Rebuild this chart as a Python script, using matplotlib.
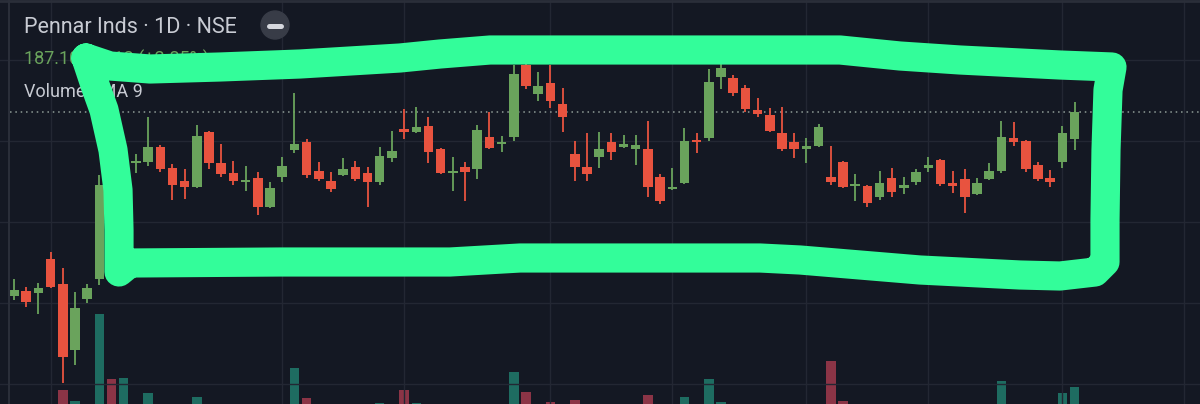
import numpy as np
import matplotlib.pyplot as plt
from matplotlib.patches import Circle

# daily OHLC, Pennar Inds (NSE)
opens = [141.7, 143.0, 142.5, 150.9, 144.7, 128.4, 141.0, 145.9, 169.4, 171.3,
         174.6, 174.8, 178.5, 173.3, 170.1, 168.6, 182.2, 174.6, 172.1, 169.9,
         170.9, 163.7, 171.1, 177.8, 179.8, 172.6, 170.1, 171.6, 173.6, 172.1,
         169.9, 175.8, 183.0, 182.2, 183.7, 178.0, 172.1, 173.6, 173.1, 181.0,
         179.3, 181.0, 198.8, 191.6, 194.3, 189.1, 176.8, 173.6, 176.0, 179.8,
         178.5, 178.0, 178.0, 171.1, 168.1, 169.6, 180.2, 180.7, 195.8, 195.6,
         193.1, 187.7, 186.4, 182.0, 179.8, 178.0, 178.8, 171.1, 174.8, 168.9,
         168.9, 166.2, 170.9, 168.4, 169.9, 173.3, 175.3, 169.6, 170.6, 166.9,
         170.6, 172.6, 180.7, 180.0, 174.1, 170.9, 174.8, 180.5]
highs = [145.9, 143.9, 144.9, 152.6, 148.6, 142.7, 144.7, 171.6, 170.9, 176.5,
         176.8, 185.9, 179.0, 174.3, 173.1, 183.9, 182.5, 179.3, 175.1, 173.8,
         172.3, 169.9, 176.0, 191.9, 180.5, 174.8, 172.3, 175.8, 175.1, 173.6,
         178.5, 182.5, 187.9, 188.4, 185.9, 178.2, 176.0, 174.8, 183.9, 187.2,
         181.2, 198.8, 199.3, 197.0, 198.8, 193.1, 180.0, 182.0, 182.2, 182.0,
         181.5, 181.5, 184.9, 171.8, 173.3, 183.2, 182.0, 197.8, 199.3, 196.3,
         193.8, 190.6, 188.1, 188.4, 182.0, 180.7, 184.2, 178.8, 175.0, 171.8,
         169.1, 172.6, 173.3, 171.1, 173.1, 176.0, 175.5, 172.6, 173.1, 170.9,
         174.6, 184.9, 184.7, 180.2, 174.8, 172.8, 183.7, 189.6]
lows = [140.7, 139.0, 137.3, 143.7, 120.2, 124.7, 140.0, 144.4, 165.2, 170.9,
        172.1, 173.8, 172.3, 165.4, 165.7, 168.4, 173.1, 171.1, 169.1, 167.6,
        161.7, 163.5, 169.9, 177.0, 170.9, 170.1, 167.4, 171.4, 170.1, 163.7,
        169.1, 174.8, 180.5, 182.0, 174.6, 171.9, 167.6, 165.2, 170.6, 178.0,
        177.3, 180.0, 192.8, 189.9, 188.1, 182.2, 170.1, 170.1, 173.3, 175.3,
        178.3, 174.1, 166.2, 164.4, 167.9, 169.4, 177.0, 180.0, 192.8, 191.1,
        187.2, 185.9, 182.2, 177.5, 175.8, 174.6, 178.5, 169.1, 168.4, 165.2,
        163.7, 165.4, 166.2, 166.9, 169.1, 172.3, 168.9, 167.2, 162.2, 166.7,
        170.4, 172.1, 178.8, 172.3, 170.1, 168.6, 173.3, 177.8]
closes = [143.2, 140.2, 143.7, 143.9, 126.7, 138.8, 143.7, 169.1, 166.4, 175.3,
          175.1, 178.5, 173.1, 169.1, 168.6, 181.2, 174.6, 171.8, 170.1, 170.4,
          163.7, 168.4, 173.8, 179.3, 171.6, 170.6, 168.1, 173.1, 170.6, 169.9,
          176.3, 177.5, 182.2, 183.5, 177.3, 172.1, 172.6, 172.3, 182.7, 178.3,
          179.8, 196.5, 193.6, 193.6, 189.9, 185.9, 173.6, 171.8, 178.0, 177.3,
          179.3, 179.0, 168.6, 165.2, 168.6, 180.0, 179.8, 194.6, 198.0, 191.9,
          187.9, 186.7, 182.5, 178.0, 178.0, 178.8, 183.5, 169.9, 168.6, 169.4,
          164.7, 169.6, 167.4, 169.1, 172.3, 174.1, 169.4, 168.9, 166.2, 169.6,
          172.6, 181.0, 179.8, 173.1, 170.6, 169.9, 182.0, 187.1]
# volume in thousands of shares
volumes = [40, 30, 45, 50, 200, 90, 45, 960, 310, 320,
           55, 170, 50, 40, 35, 130, 50, 30, 25, 20,
           40, 35, 30, 420, 120, 30, 25, 20, 20, 25,
           70, 40, 200, 70, 50, 45, 25, 30, 55, 50,
           20, 380, 180, 50, 80, 55, 100, 50, 40, 30,
           20, 25, 150, 55, 30, 130, 40, 310, 80, 50,
           45, 30, 35, 50, 25, 20, 40, 490, 90, 30,
           40, 35, 30, 20, 25, 20, 45, 25, 40, 30,
           35, 290, 55, 50, 40, 30, 170, 230]
last_price = 187.1
grid_prices = [120, 140, 160, 180, 200]
grid_bars = [3, 22, 32, 44, 54, 65, 75, 86, 96]

title = "Pennar Inds \u00b7 1D \u00b7 NSE"
price_text = "187.10  +5.18 (+2.85%)"
vol_text = "Volume SMA 9"

# hand-drawn highlighter loop, in screen pixels
stroke_x = [86, 110, 150, 220, 300, 400, 440, 490, 700, 840, 900, 960, 1060, 1112,
            1108, 1106, 1105, 1105, 1095, 1060, 1020, 920, 860, 800, 760, 520, 450,
            280, 130, 119, 119, 118, 113, 104, 95, 86]
stroke_y = [58, 66, 69, 67, 64, 58, 54, 50, 50, 50, 56, 60, 65, 67,
            90, 150, 220, 262, 272, 276, 275, 270, 265, 260, 258, 258, 262,
            262, 263, 272, 230, 190, 150, 110, 85, 58]

bg = '#141823'
gridc = '#232733'
up_c, dn_c = '#6aa35c', '#e8533f'
vup_c, vdn_c = '#1e6c61', '#8b3446'

o = np.array(opens); h = np.array(highs); l = np.array(lows); c = np.array(closes)
x = np.arange(len(o))
up = c >= o

fig = plt.figure(figsize=(12, 4.04), dpi=100, facecolor=bg)

# volume pane (bottom, own scale)
axv = fig.add_axes([0, 0, 1, 1])
axv.set_facecolor(bg)
axv.bar(x, volumes, width=0.78, color=np.where(up, vup_c, vdn_c))
axv.set_ylim(60, 4100)
axv.set_xlim(-1.148, 97.29)
axv.set_xticks([]); axv.set_yticks([])
for s in axv.spines.values():
    s.set_visible(False)

# price pane
ax = fig.add_axes([0, 0, 1, 1])
ax.patch.set_alpha(0)
ax.set_xlim(-1.148, 97.29)
ax.set_ylim(115.06, 214.81)
ax.set_yticks(grid_prices)
ax.set_xticks(grid_bars)
ax.grid(True, color=gridc, lw=1)
ax.set_axisbelow(True)
ax.tick_params(length=0, labelleft=False, labelbottom=False)
for s in ax.spines.values():
    s.set_visible(False)

cols = np.where(up, up_c, dn_c)
ax.vlines(x, l, h, colors=cols, lw=1.3, zorder=2)
body_lo = np.minimum(o, c)
body_h = np.maximum(np.abs(c - o), 0.3)
ax.bar(x, body_h, bottom=body_lo, width=0.78, color=cols, zorder=3)
ax.axhline(last_price, xmin=10 / 1200, color='#8f9c97', lw=1.1, ls=(0, (1, 2.5)), zorder=1)

# overlay in pixel coordinates: header, frame, highlighter
axd = fig.add_axes([0, 0, 1, 1])
axd.set_xlim(0, 1200)
axd.set_ylim(404, 0)
axd.axis('off')
axd.axvline(9, color='#2a2e39', lw=1.5)
axd.axhline(1, color='#2a2e39', lw=2)

axd.text(24, 33, title, color='#c8cbd3', fontsize=15.5, family='Roboto', va='baseline', zorder=4)
axd.add_patch(Circle((275, 25), 14, color='#383c47', zorder=4))
axd.plot([269, 281], [25.5, 25.5], color='#d6d8de', lw=3.6, solid_capstyle='round', zorder=5)
axd.text(24, 65, price_text, color='#6aa35c', fontsize=13, family='Roboto', va='baseline', zorder=4)
axd.text(24, 97, vol_text, color='#c8cbd3', fontsize=13, family='Roboto', va='baseline', zorder=4)

axd.plot(stroke_x, stroke_y, color='#33fd9a', lw=21, solid_capstyle='round',
         solid_joinstyle='round', zorder=10)

fig.savefig('out.png', dpi=100, facecolor=bg)
